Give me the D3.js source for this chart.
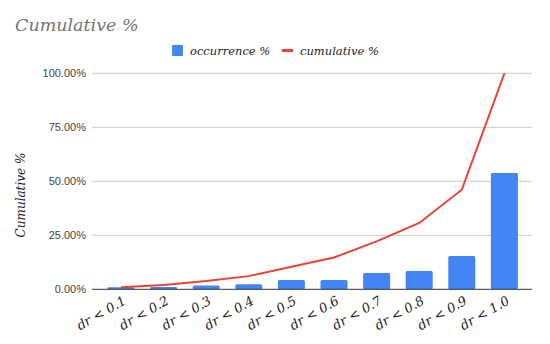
<!DOCTYPE html>
<html><head><meta charset="utf-8">
<script src="https://cdn.jsdelivr.net/npm/d3@7/dist/d3.min.js"></script>
<style>body{margin:0;background:#fff}</style>
</head><body><svg id="c" width="550" height="344"></svg>
<script>
const categories = ["dr < 0.1","dr < 0.2","dr < 0.3","dr < 0.4","dr < 0.5","dr < 0.6","dr < 0.7","dr < 0.8","dr < 0.9","dr < 1.0"];
const occurrence = [0.9, 1.1, 1.8, 2.3, 4.3, 4.3, 7.5, 8.5, 15.4, 53.9];
const cumulative = [0.9, 2.0, 3.8, 6.1, 10.4, 14.7, 22.2, 30.7, 46.1, 100];
const yTicks = [0, 25, 50, 75, 100];

const svg = d3.select("#c");
const serif = "'DejaVu Serif', serif";
const x = d3.scaleBand().domain(categories).range([99.7, 525.7]).paddingInner(0.366).paddingOuter(0.183);
const y = d3.scaleLinear().domain([0, 100]).range([289.3, 73.3]);
const gridL = 92, gridR = 532;

// gridlines
svg.append("g").selectAll("line").data(yTicks.filter(d => d > 0)).join("line")
  .attr("x1", gridL).attr("x2", gridR).attr("y1", d => y(d)).attr("y2", d => y(d))
  .attr("stroke", "#cccccc").attr("stroke-width", 1);

// y axis labels
const yAxis = d3.axisLeft(y).tickValues(yTicks).tickSize(0).tickPadding(0)
  .tickFormat(d => d.toFixed(2) + "%");
const ya = svg.append("g").attr("transform", `translate(${86},0)`).call(yAxis);
ya.select(".domain").remove();
ya.selectAll("text").attr("font-family", "'Liberation Sans', Arial, sans-serif")
  .attr("font-size", 11).attr("fill", "#444");

// bars
svg.append("g").selectAll("rect").data(categories).join("rect")
  .attr("x", d => x(d)).attr("width", x.bandwidth())
  .attr("y", (d, i) => y(occurrence[i])).attr("height", (d, i) => y(0) - y(occurrence[i]))
  .attr("rx", 1.5).attr("fill", "#4285f4");

// baseline
svg.append("line").attr("x1", gridL).attr("x2", gridR).attr("y1", y(0)).attr("y2", y(0))
  .attr("stroke", "#333").attr("stroke-width", 1);

// line
const line = d3.line().x((d, i) => x(categories[i]) + x.bandwidth() / 2).y(d => y(d));
svg.append("path").datum(cumulative).attr("d", line).attr("fill", "none")
  .attr("stroke", "#ea4335").attr("stroke-width", 2);

// x labels
const xAxis = d3.axisBottom(x).tickSize(0).tickPadding(0);
const xa = svg.append("g").attr("transform", `translate(0,${y(0)})`).call(xAxis);
xa.select(".domain").remove();
xa.selectAll("text")
  .attr("font-family", serif).attr("font-style", "italic").attr("font-size", 13).attr("fill", "#222")
  .attr("text-anchor", "end").attr("dy", null).attr("y", 0)
  .attr("transform", "translate(6,14) rotate(-30)");

// title
svg.append("text").attr("x", 15).attr("y", 31).text("Cumulative %")
  .attr("font-family", serif).attr("font-style", "italic").attr("font-size", 17.5).attr("fill", "#757575");

// legend
svg.append("rect").attr("x", 172).attr("y", 45).attr("width", 11).attr("height", 11).attr("rx", 1).attr("fill", "#4285f4");
svg.append("text").attr("x", 190).attr("y", 55).text("occurrence %")
  .attr("font-family", serif).attr("font-style", "italic").attr("font-size", 11.5).attr("fill", "#222");
svg.append("line").attr("x1", 282).attr("x2", 293).attr("y1", 50.5).attr("y2", 50.5)
  .attr("stroke", "#ea4335").attr("stroke-width", 3);
svg.append("text").attr("x", 300).attr("y", 55).text("cumulative %")
  .attr("font-family", serif).attr("font-style", "italic").attr("font-size", 11.5).attr("fill", "#222");

// y axis title
svg.append("text").attr("transform", "translate(25,195) rotate(-90)").attr("text-anchor", "middle")
  .text("Cumulative %").attr("font-family", serif).attr("font-style", "italic").attr("font-size", 12).attr("fill", "#222");
</script></body></html>
